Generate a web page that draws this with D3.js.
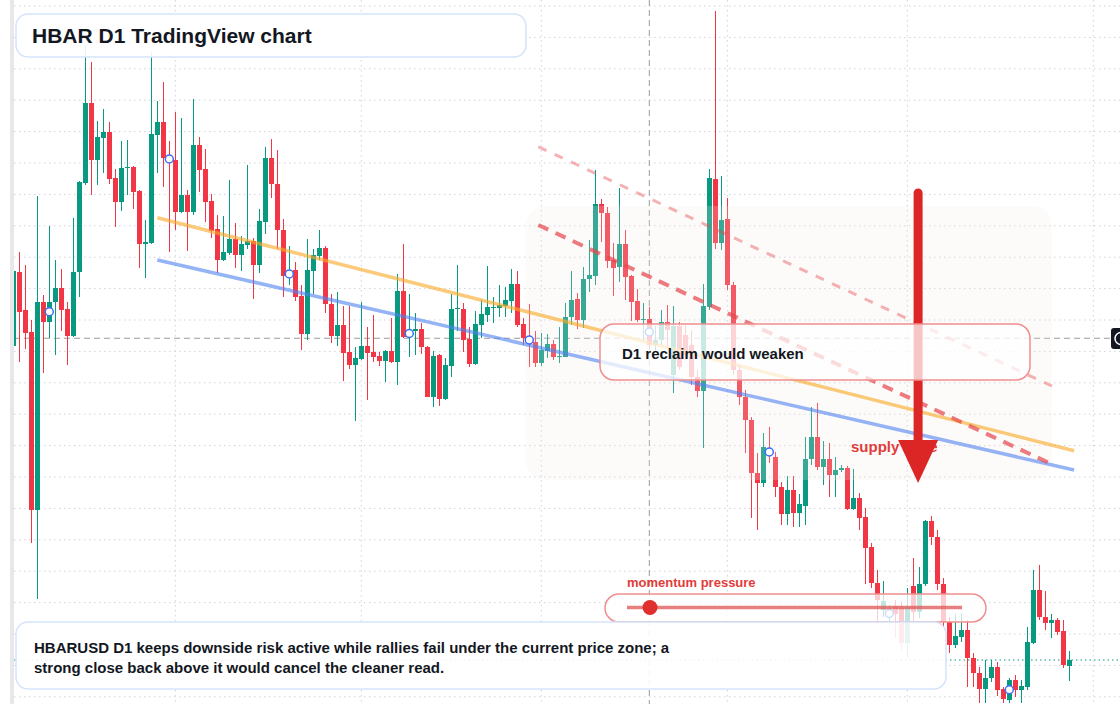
<!DOCTYPE html>
<html lang="en">
<head>
    <meta charset="UTF-8">
    <meta name="viewport" content="width=device-width, initial-scale=1.0">
    <title>HBAR D1 TradingView chart</title>
    <style>
      html, body { margin:0; padding:0; background:#fff; }
      svg { display:block; }
      text { font-family: "Liberation Sans", Arial, Helvetica, sans-serif; font-weight:700; }
    </style>
</head>
<body>
    <div class="chart"></div>
    <script src="https://d3js.org/d3.v7.min.js"></script>
    <script>
      // daily OHLC, HBARUSD
      const opens = [
        .2616,.2914,.2760,.2674,.1960,.2792,.2712,.2792,.2848,.2764,
        .2656,.2912,.3268,.3588,.3362,.3450,.3472,.3288,.3192,.3328,
        .3332,.3238,.3024,.3028,.3460,.3512,.3368,.3360,.3152,.3220,
        .3152,.3420,.3324,.3196,.3084,.2960,.2988,.3044,.2980,.3022,
        .3038,.2940,.3112,.3368,.3264,.3080,.2896,.2920,.2816,.2664,
        .2918,.2978,.3010,.2786,.2658,.2702,.2592,.2540,.2564,.2618,
        .2592,.2576,.2556,.2596,.2554,.2836,.2660,.2678,.2686,.2614,
        .2414,.2580,.2404,.2538,.2764,.2766,.2644,.2544,.2700,.2740,
        .2770,.2770,.2776,.2798,.2864,.2704,.2652,.2632,.2550,.2598,
        .2626,.2572,.2574,.2734,.2806,.2720,.2886,.2898,.3186,.3150,
        .2960,.2932,.3026,.2896,.2796,.2722,.2724,.2620,.2640,.2712,
        .2500,.2696,.2660,.2620,.2494,.2438,.2774,.3286,.3030,.3124,
        .2860,.2520,.2414,.2322,.2108,.2068,.2208,.2172,.2052,.1944,
        .2040,.1948,.1976,.2164,.2252,.2132,.2164,.2100,.2120,.2128,
        .1964,.2008,.1932,.1812,.1668,.1560,.1532,.1576,.1572,.1428,
        .1656,.1552,.1666,.1916,.1854,.1666,.1514,.1420,.1454,.1480,
        .1368,.1310,.1244,.1290,.1332,.1246,.1202,.1280,.1242,.1254,
        .1430,.1640,.1532,.1510,.1520,.1476,.1338
      ];
      const highs = [
        .2928,.2992,.2940,.2720,.3216,.2820,.3096,.2960,.2924,.2794,
        .3128,.3276,.3820,.3752,.3516,.3564,.3512,.3324,.3436,.3440,
        .3336,.3240,.3120,.3792,.3596,.3672,.3436,.3552,.3528,.3240,
        .3604,.3452,.3404,.3224,.3140,.3136,.3280,.3108,.3058,.3340,
        .3048,.3166,.3412,.3444,.3400,.3126,.3018,.2952,.2860,.3044,
        .3004,.3082,.3016,.2824,.2832,.2776,.2776,.2612,.2792,.2692,
        .2740,.2592,.2600,.2728,.2904,.3024,.2824,.2748,.2710,.2616,
        .2598,.2584,.2568,.2826,.2940,.2788,.2692,.2756,.2800,.2936,
        .2814,.2860,.2852,.2926,.2916,.2728,.2784,.2676,.2668,.2664,
        .2640,.2692,.2788,.2916,.2828,.2932,.3040,.3320,.3204,.3172,
        .3028,.3248,.3080,.2900,.2844,.2788,.2774,.2696,.2760,.2780,
        .2776,.2712,.2700,.2680,.2520,.2864,.3324,.3956,.3298,.3208,
        .2872,.2540,.2440,.2334,.2188,.2268,.2292,.2192,.2072,.2096,
        .2096,.2024,.2252,.2372,.2388,.2236,.2228,.2172,.2140,.2136,
        .2124,.2028,.1968,.1828,.1720,.1676,.1580,.1600,.1596,.1648,
        .1768,.1734,.1920,.1936,.1880,.1688,.1534,.1544,.1548,.1520,
        .1388,.1332,.1360,.1360,.1354,.1254,.1288,.1300,.1280,.1494,
        .1720,.1740,.1636,.1544,.1528,.1522,.1396
      ];
      const lows = [
        .2608,.2554,.2606,.1828,.1606,.2510,.2648,.2580,.2676,.2540,
        .2652,.2812,.3260,.3220,.3260,.3308,.3264,.3092,.3156,.3220,
        .3164,.2928,.2888,.3024,.3308,.3254,.2992,.3080,.3148,.2996,
        .3140,.3232,.3112,.3048,.2908,.2956,.2980,.2928,.2918,.3004,
        .2806,.2908,.3066,.3210,.3004,.2814,.2860,.2798,.2600,.2640,
        .2824,.2960,.2750,.2630,.2618,.2478,.2526,.2318,.2560,.2400,
        .2552,.2536,.2474,.2550,.2462,.2650,.2574,.2580,.2584,.2412,
        .2372,.2378,.2400,.2494,.2678,.2592,.2534,.2542,.2648,.2712,
        .2708,.2732,.2732,.2748,.2694,.2620,.2534,.2532,.2536,.2568,
        .2560,.2548,.2572,.2700,.2684,.2688,.2832,.2860,.3034,.2928,
        .2818,.2872,.2802,.2716,.2712,.2640,.2600,.2592,.2620,.2608,
        .2428,.2520,.2560,.2460,.2412,.2208,.2760,.3004,.3000,.2840,
        .2500,.2380,.2188,.1930,.1880,.2052,.2148,.2012,.1900,.1900,
        .1892,.1892,.1900,.2140,.2120,.2060,.2012,.2012,.2112,.1960,
        .1962,.1880,.1664,.1648,.1500,.1532,.1500,.1448,.1400,.1368,
        .1500,.1528,.1656,.1820,.1640,.1488,.1388,.1408,.1432,.1254,
        .1254,.1188,.1190,.1272,.1216,.1188,.1188,.1212,.1188,.1240,
        .1426,.1520,.1480,.1448,.1460,.1328,.1278
      ];
      const closes = [
        .2916,.2754,.2668,.1960,.2792,.2712,.2794,.2848,.2760,.2656,
        .2914,.3272,.3588,.3362,.3452,.3472,.3284,.3192,.3328,.3332,
        .3232,.3024,.3032,.3464,.3512,.3370,.3360,.3152,.3220,.3152,
        .3420,.3320,.3192,.3078,.2960,.2992,.3044,.2980,.3024,.3038,
        .2940,.3116,.3368,.3264,.3080,.2898,.2912,.2814,.2664,.2920,
        .2980,.3010,.2786,.2658,.2702,.2590,.2540,.2568,.2616,.2590,
        .2572,.2558,.2596,.2554,.2836,.2654,.2672,.2686,.2612,.2414,
        .2576,.2404,.2540,.2764,.2768,.2640,.2544,.2704,.2744,.2772,
        .2774,.2780,.2800,.2864,.2700,.2648,.2628,.2550,.2600,.2626,
        .2572,.2578,.2734,.2802,.2720,.2886,.2900,.3186,.3150,.2958,
        .2930,.3026,.2894,.2794,.2720,.2726,.2620,.2640,.2712,.2680,
        .2696,.2534,.2580,.2492,.2438,.2776,.3288,.3030,.3122,.2860,
        .2520,.2414,.2322,.2108,.2068,.2212,.2176,.2052,.1944,.2040,
        .1948,.1984,.2164,.2252,.2132,.2164,.2100,.2120,.2128,.1964,
        .2008,.1928,.1808,.1668,.1600,.1596,.1560,.1544,.1428,.1572,
        .1552,.1666,.1916,.1854,.1666,.1514,.1420,.1456,.1480,.1368,
        .1310,.1244,.1290,.1332,.1240,.1204,.1280,.1240,.1256,.1432,
        .1640,.1532,.1510,.1520,.1474,.1340,.1360
      ];

      const days = d3.range(opens.length);
      const monthStarts = [27, 58, 88, 119, 149, 180];
      const markerDays = [6, 26, 46, 66, 86, 106, 126, 146, 166];
      const gridLevels = d3.range(23).map(k => 0.3976 - k * 0.01256);

      const crosshairDay = 106;
      const crosshairPrice = 0.2647;

      // drawn levels [day, price]
      const resistanceLine = [[24, 0.3129], [176.8, 0.2197]];
      const supportLine = [[24, 0.2960], [176.8, 0.2120]];
      const channelUpper = [[87.5, 0.3413], [173.1, 0.2456]];
      const channelLower = [[87.5, 0.3100], [173.1, 0.2143]];
      const zoneDays = [85.4, 173.1];
      const zonePrices = [0.3176, 0.2080];
      const arrowDay = 150.8;
      const arrowPrices = [0.3228, 0.2068];

      const titleText = 'HBAR D1 TradingView chart';
      const noteLines = [
        'HBARUSD D1 keeps downside risk active while rallies fail under the current price zone; a',
        'strong close back above it would cancel the cleaner read.'
      ];

      const width = 1120, height = 704;
      const up = '#089981', down = '#f23645';

      const svg = d3.select('.chart')
              .append('svg')
              .attr('width', width)
              .attr('height', height);

      const x = d3.scaleLinear().domain([0, 176]).range([13.3, 1069.3]);
      const y = d3.scaleLinear().domain([0.12, 0.40]).range([700, 0]);

      svg.append('defs')
         .append('clipPath')
         .attr('id', 'plotClip')
         .append('rect')
         .attr('x', 14).attr('y', 0)
         .attr('width', width - 14).attr('height', height);

      // left edge strip
      svg.append('rect')
         .attr('x', 10).attr('y', 0).attr('width', 4).attr('height', height)
         .attr('fill', '#e8e8ea');

      const plot = svg.append('g').attr('clip-path', 'url(#plotClip)');

      // grid
      plot.append('g').selectAll('line')
          .data(gridLevels)
          .join('line')
          .attr('x1', 14).attr('x2', width)
          .attr('y1', d => y(d)).attr('y2', d => y(d))
          .attr('stroke', '#cfd3d8')
          .attr('stroke-dasharray', '1.5 3.5');

      plot.append('g').selectAll('line')
          .data(monthStarts)
          .join('line')
          .attr('x1', d => x(d)).attr('x2', d => x(d))
          .attr('y1', 0).attr('y2', height)
          .attr('stroke', '#cfd3d8')
          .attr('stroke-dasharray', '1.5 3.5');

      // last price line
      plot.append('line')
          .attr('x1', 14).attr('x2', width)
          .attr('y1', y(closes[closes.length - 1])).attr('y2', y(closes[closes.length - 1]))
          .attr('stroke', up)
          .attr('stroke-dasharray', '1.5 3');

      // crosshair
      plot.append('line')
          .attr('x1', x(crosshairDay)).attr('x2', x(crosshairDay))
          .attr('y1', 0).attr('y2', height)
          .attr('stroke', '#9a9a9a')
          .attr('stroke-dasharray', '6 4');
      plot.append('line')
          .attr('x1', 14).attr('x2', 1111)
          .attr('y1', y(crosshairPrice)).attr('y2', y(crosshairPrice))
          .attr('stroke', '#9a9a9a')
          .attr('stroke-dasharray', '6 4');

      // candles
      const candles = days.map(i => ({ i, o: opens[i], h: highs[i], l: lows[i], c: closes[i] }));
      const cg = plot.append('g').attr('shape-rendering', 'crispEdges');

      cg.selectAll('.wick')
        .data(candles)
        .join('line')
        .attr('class', 'wick')
        .attr('x1', d => x(d.i)).attr('x2', d => x(d.i))
        .attr('y1', d => y(d.h)).attr('y2', d => y(d.l))
        .attr('stroke', d => d.c >= d.o ? up : down)
        .attr('stroke-width', 1);

      cg.selectAll('.body')
        .data(candles)
        .join('rect')
        .attr('class', 'body')
        .attr('x', d => x(d.i) - 2.4)
        .attr('width', 4.8)
        .attr('y', d => y(Math.max(d.o, d.c)))
        .attr('height', d => Math.max(1, Math.abs(y(d.o) - y(d.c))))
        .attr('fill', d => d.c >= d.o ? up : down);

      // supply zone shade
      plot.append('rect')
          .attr('x', x(zoneDays[0]))
          .attr('y', y(zonePrices[0]))
          .attr('width', x(zoneDays[1]) - x(zoneDays[0]))
          .attr('height', y(zonePrices[1]) - y(zonePrices[0]))
          .attr('rx', 20)
          .attr('fill', '#f7ede4')
          .attr('opacity', 0.2);

      const line = d3.line().x(d => x(d[0])).y(d => y(d[1]));

      plot.append('path').attr('d', line(resistanceLine))
          .attr('fill', 'none').attr('stroke', '#f8a928')
          .attr('stroke-width', 3.5).attr('opacity', 0.62);
      plot.append('path').attr('d', line(supportLine))
          .attr('fill', 'none').attr('stroke', '#4f82f0')
          .attr('stroke-width', 3.5).attr('opacity', 0.6);
      plot.append('path').attr('d', line(channelUpper))
          .attr('fill', 'none').attr('stroke', '#e5484d')
          .attr('stroke-width', 3).attr('stroke-dasharray', '9 9').attr('opacity', 0.42);
      plot.append('path').attr('d', line(channelLower))
          .attr('fill', 'none').attr('stroke', '#e5484d')
          .attr('stroke-width', 4).attr('stroke-dasharray', '11 8').attr('opacity', 0.72);

      // markers on body midpoints
      plot.append('g').selectAll('circle')
          .data(markerDays)
          .join('circle')
          .attr('cx', d => x(d))
          .attr('cy', d => y((opens[d] + closes[d]) / 2))
          .attr('r', 4)
          .attr('fill', '#fff')
          .attr('stroke', '#3a6ef2')
          .attr('stroke-width', 1.5);

      // supply zone label + arrow
      svg.append('text')
         .attr('x', 851).attr('y', 452)
         .attr('font-size', 15)
         .attr('fill', '#e23b3b')
         .text('supply zone');

      const ax = x(arrowDay), aTop = y(arrowPrices[0]), aTip = y(arrowPrices[1]);
      svg.append('line')
         .attr('x1', ax).attr('x2', ax)
         .attr('y1', aTop).attr('y2', aTip - 40)
         .attr('stroke', '#dc2626').attr('stroke-width', 9)
         .attr('stroke-linecap', 'round');
      svg.append('path')
         .attr('d', `M${ax - 20},${aTip - 43} L${ax + 20},${aTip - 43} L${ax},${aTip} Z`)
         .attr('fill', '#dc2626');

      // callout: D1 reclaim
      svg.append('rect')
         .attr('x', 600).attr('y', 324).attr('width', 430).attr('height', 56).attr('rx', 14)
         .attr('fill', '#fff').attr('fill-opacity', 0.74)
         .attr('stroke', '#ee8e8e').attr('stroke-width', 1.5);
      svg.append('text')
         .attr('x', 622).attr('y', 359)
         .attr('font-size', 15)
         .attr('fill', '#131722')
         .text('D1 reclaim would weaken');

      // momentum widget
      svg.append('text')
         .attr('x', 627).attr('y', 587)
         .attr('font-size', 13)
         .attr('fill', '#e23b3b')
         .text('momentum pressure');
      svg.append('rect')
         .attr('x', 605).attr('y', 594).attr('width', 381).attr('height', 28).attr('rx', 14)
         .attr('fill', '#fff').attr('fill-opacity', 0.75)
         .attr('stroke', '#ee8e8e').attr('stroke-width', 1.5);
      svg.append('line')
         .attr('x1', 627).attr('x2', 962).attr('y1', 607.5).attr('y2', 607.5)
         .attr('stroke', '#e05555').attr('stroke-width', 3.5).attr('opacity', 0.75);
      svg.append('circle')
         .attr('cx', 650).attr('cy', 607.5).attr('r', 7.5)
         .attr('fill', '#e02f2f');

      // title box
      svg.append('rect')
         .attr('x', 16).attr('y', 14).attr('width', 510).attr('height', 43).attr('rx', 12)
         .attr('fill', '#fff').attr('fill-opacity', 0.9)
         .attr('stroke', '#d5e3fa').attr('stroke-width', 1.5);
      svg.append('text')
         .attr('x', 32).attr('y', 43)
         .attr('font-size', 21)
         .attr('fill', '#131722')
         .text(titleText);

      // note box
      svg.append('rect')
         .attr('x', 16).attr('y', 622).attr('width', 930).attr('height', 67).attr('rx', 12)
         .attr('fill', '#fff').attr('fill-opacity', 0.9)
         .attr('stroke', '#d5e3fa').attr('stroke-width', 1.5);
      svg.append('g').selectAll('text')
         .data(noteLines)
         .join('text')
         .attr('x', 34)
         .attr('y', (d, i) => 653 + i * 20)
         .attr('font-size', 15)
         .attr('fill', '#131722')
         .text(d => d);

      // price label stub at right edge
      svg.append('rect')
         .attr('x', 1111).attr('y', 328).attr('width', 14).attr('height', 21).attr('rx', 3)
         .attr('fill', '#131722');
      svg.append('circle')
         .attr('cx', 1121).attr('cy', 338.5).attr('r', 6)
         .attr('fill', 'none').attr('stroke', '#fff').attr('stroke-width', 1.5);
    </script>
</body>
</html>
